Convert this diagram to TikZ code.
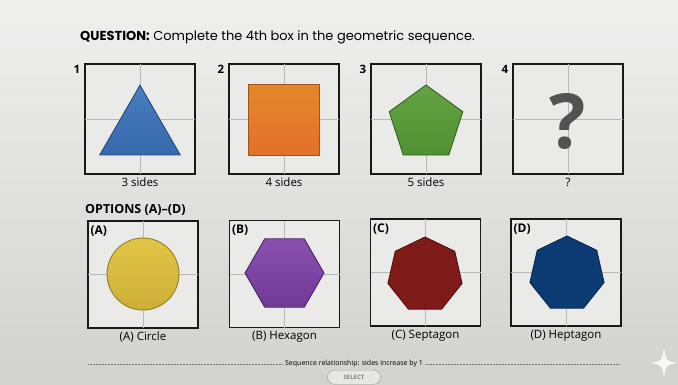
\documentclass[tikz,border=0pt]{standalone}
\usepackage{fontspec}
\setmainfont{Open Sans}
\newfontfamily\titlefont{Poppins}
\usetikzlibrary{positioning,shapes.geometric}

\definecolor{pagebg}{HTML}{E4E5E3}
\definecolor{cellbg}{HTML}{EAEBE9}
\definecolor{gridln}{HTML}{B9BAB8}
\definecolor{triblue}{HTML}{3A72BA}
\definecolor{sqorange}{HTML}{E07A2E}
\definecolor{pentgreen}{HTML}{5A9E38}
\definecolor{circyellow}{HTML}{E2C23C}
\definecolor{hexpurple}{HTML}{7E40A8}
\definecolor{heptred}{HTML}{7E1A18}
\definecolor{heptnavy}{HTML}{0B3B72}

\begin{document}
\begin{tikzpicture}[x=1pt,y=-1pt,
      cell/.style={draw=black!90,line width=1.2pt,fill=cellbg,minimum width=110pt,minimum height=110pt,inner sep=0pt},
      optcell/.style={cell,minimum height=107pt},
      shp/.style={inner sep=0pt,line width=0.9pt},
      poly/.style={shp,regular polygon,regular polygon sides=#1},
      numlbl/.style={font=\bfseries\fontsize{11.5}{12}\selectfont,inner sep=0pt},
      optlbl/.style={font=\bfseries\fontsize{12}{12}\selectfont,inner sep=0pt},
      capt/.style={font=\fontsize{11.5}{13}\selectfont,inner sep=1pt}
    ]
      % page
      \fill[top color=pagebg!60!white,bottom color=pagebg!92!black] (0,0) rectangle (678,384);
      \useasboundingbox (0,0) rectangle (678,384);
      \clip (0,0) rectangle (678,384);

      \node[anchor=west,inner sep=0pt,font=\titlefont\fontsize{13}{15}\selectfont] (title) at (80,37)
        {\textbf{QUESTION:} Complete the 4th box in the geometric sequence.};

      % sequence row
      \node[cell] (q1) at (140,119) {};
      \node[cell] (q2) at (284,119) {};
      \node[cell] (q3) at (426,119) {};
      \node[cell] (q4) at (568,119) {};
      % option row
      \node[optcell] (oa) at (143,274.5) {};
      \node[optcell] (ob) at (284.5,274) {};
      \node[optcell] (oc) at (425.5,272.5) {};
      \node[optcell] (od) at (566,272.5) {};

      \foreach \c in {q1,q2,q3,q4,oa,ob,oc,od}{
        \draw[gridln,line width=0.6pt,shorten <=0.6pt,shorten >=0.6pt] (\c.north) -- (\c.south);
        \draw[gridln,line width=0.6pt,shorten <=0.6pt,shorten >=0.6pt] (\c.west) -- (\c.east);
      }

      \node[numlbl,anchor=north east] (n1) at ([xshift=-4pt,yshift=-2pt]q1.north west) {1};
      \node[numlbl,anchor=north east] (n2) at ([xshift=-4pt,yshift=-2pt]q2.north west) {2};
      \node[numlbl,anchor=north east] (n3) at ([xshift=-4pt,yshift=-2pt]q3.north west) {3};
      \node[numlbl,anchor=north east] (n4) at ([xshift=-4pt,yshift=-2pt]q4.north west) {4};

      % shapes
      \node[poly=3,minimum size=93pt,draw=triblue!65!black,top color=triblue!92!white,bottom color=triblue!92!black] (tri) at (140,131.7) {};
      \node[shp,rectangle,minimum size=71pt,draw=sqorange!70!black,top color=sqorange!90!yellow,bottom color=sqorange!92!red] (sq) at (283.5,119.5) {};
      \node[poly=5,minimum size=77.4pt,draw=pentgreen!60!black,top color=pentgreen!95!white,bottom color=pentgreen!92!black] (pent) at (426,123.7) {};
      \node[font=\bfseries\fontsize{76}{76}\selectfont,text=black!68,inner sep=0pt] (qm) at (568,121) {?};

      \node[shp,circle,minimum size=72pt,draw=circyellow!65!black,top color=circyellow!95!white,bottom color=circyellow!90!black] (circ) at (143,274) {};
      \node[poly=6,minimum size=79pt,draw=hexpurple!60!black,top color=hexpurple!92!white,bottom color=hexpurple!90!black] (hexa) at (284.5,273) {};
      \node[poly=7,minimum size=76pt,draw=heptred!65!black,fill=heptred] (hepc) at (425,275) {};
      \node[poly=7,minimum size=76pt,draw=heptnavy!65!black,fill=heptnavy] (hepd) at (567,274) {};

      % captions
      \node[capt,below=2pt of q1] (c1) {3 sides};
      \node[capt,below=2pt of q2] (c2) {4 sides};
      \node[capt,below=2pt of q3] (c3) {5 sides};
      \node[capt,below=2pt of q4] (c4) {?};

      \node[anchor=west,inner sep=0pt,font=\bfseries\fontsize{12.5}{14}\selectfont] (opts) at (85,210) {OPTIONS (A)--(D)};

      \node[optlbl,anchor=north west] (la) at ([xshift=3pt,yshift=-5pt]oa.north west) {(A)};
      \node[optlbl,anchor=north west] (lb) at ([xshift=3pt,yshift=-5pt]ob.north west) {(B)};
      \node[optlbl,anchor=north west] (lc) at ([xshift=3pt,yshift=-5pt]oc.north west) {(C)};
      \node[optlbl,anchor=north west] (ld) at ([xshift=3pt,yshift=-5pt]od.north west) {(D)};

      \node[capt,below=2pt of oa] (ca) {(A) Circle};
      \node[capt,below=2pt of ob] (cb) {(B) Hexagon};
      \node[capt,below=2pt of oc] (cc) {(C) Septagon};
      \node[capt,below=2pt of od] (cd) {(D) Heptagon};

      % footer
      \node[inner sep=2pt,font=\fontsize{7}{8}\selectfont] (rel) at (354,364) {Sequence relationship: sides increase by 1};
      \coordinate (dl) at (88,364);
      \coordinate (dr) at (620,364);
      \draw[black!55,line width=0.5pt,dash pattern=on 0.6pt off 0.9pt] (dl) -- (rel.west);
      \draw[black!55,line width=0.5pt,dash pattern=on 0.6pt off 0.9pt] (rel.east) -- (dr);

      \node[draw=black!40,fill=pagebg!90!white,rounded corners=7pt,minimum width=53pt,minimum height=14pt,inner sep=1pt,
        font=\bfseries\fontsize{6}{7}\selectfont,text=black!50,anchor=north] (sel) at (354,370) {SELECT};

      \fill[white,opacity=0.85] (664,348) .. controls (666,361) .. (677,363) .. controls (666,365) .. (664,378)
        .. controls (662,365) .. (651,363) .. controls (662,361) .. (664,348);
    \end{tikzpicture}
\end{document}
